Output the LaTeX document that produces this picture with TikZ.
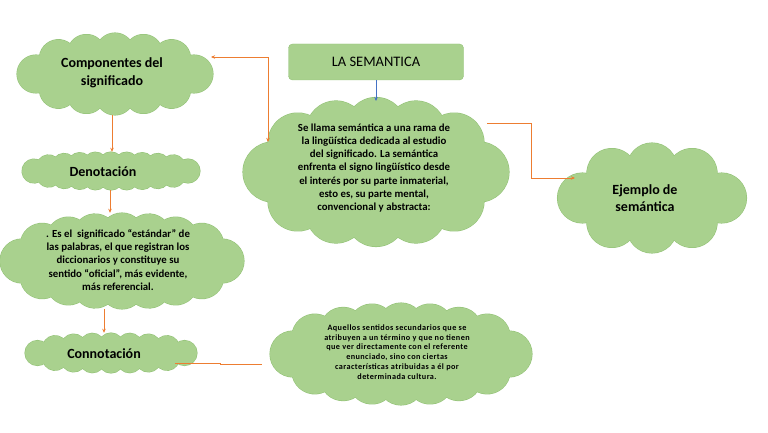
\documentclass[tikz,border=0pt]{standalone}
\usepackage{fontspec}
\setmainfont{Carlito}
\newfontfamily\spacedfont[LetterSpace=5]{Carlito}
\usetikzlibrary{arrows.meta,decorations.markings}
\definecolor{cloudgreen}{HTML}{A9D18E}
\definecolor{cloudedge}{HTML}{93C277}
\definecolor{lineorange}{HTML}{ED7D31}
\definecolor{lineblue}{HTML}{4472C4}
% #1 name, #2 cx, #3 cy, #4 width, #5 height, #6 puff radius
\newcommand\puffcloud[6]{%
  \pgfmathsetmacro\pcax{#4/2-#6}%
  \pgfmathsetmacro\pcay{#5/2-#6}%
  \pgfmathsetmacro\pcper{3.14159*(3*(\pcax+\pcay)-sqrt(3*\pcax+\pcay)*sqrt(\pcax+3*\pcay))}%
  \pgfmathsetmacro\pcn{4*max(2,round(\pcper/(5.4*#6)))}%
  \pgfmathsetmacro\pcstep{1/\pcn}%
  \node[inner sep=0pt, minimum width=#4pt, minimum height=#5pt] (#1) at (#2,#3) {};
  \path[decorate, decoration={markings, mark=between positions 0 and 0.99 step \pcstep with {\draw[cloudedge, line width=1.1pt] (0,0) circle[radius=#6];}}]
    (#2,#3) ellipse[x radius=\pcax, y radius=\pcay];
  \path[decorate, decoration={markings, mark=between positions 0 and 0.99 step \pcstep with {\fill[cloudgreen] (0,0) circle[radius=#6];}}]
    (#2,#3) ellipse[x radius=\pcax, y radius=\pcay];
  \fill[cloudgreen] (#2,#3) ellipse[x radius=\pcax+1, y radius=\pcay+1];
}
\begin{document}
\begin{tikzpicture}[x=1pt,y=-1pt,
  lbl/.style={font=\bfseries\fontsize{14}{17.5}\selectfont, align=center, text=black},
  body/.style={font=\bfseries\fontsize{10.8}{13.1}\selectfont, align=center, text=black},
  conn/.style={draw=lineorange, line width=0.9pt},
  tip/.style={-{Stealth[length=4pt,width=3.5pt]}},
  bothtip/.style={{Stealth[length=4pt,width=3.5pt]}-{Stealth[length=4pt,width=3.5pt]}}
]
\useasboundingbox (0,0) rectangle (768,433);
\fill[white] (0,0) rectangle (768,433);

% clouds
\puffcloud{comp}{115}{74}{196}{82}{19}
\puffcloud{deno}{111}{171}{178}{38}{12}
\puffcloud{esel}{122}{261}{244}{96}{22}
\puffcloud{conno}{111}{353}{172}{40}{12.5}
\puffcloud{aque}{401}{354}{262}{102}{23}
\puffcloud{big}{376}{172}{266}{149}{30}
\puffcloud{ejem}{652}{198}{189}{110}{25}

% title box
\node[draw=cloudedge, fill=cloudgreen, rounded corners=4pt, minimum width=175pt, minimum height=36pt, font=\fontsize{14.5}{16}\selectfont, text=black] (title) at (376,62) {LA SEMANTICA};

% texts
\node[lbl] (tcomp) at (112,73) {Componentes del\\significado};
\node[lbl] (tdeno) at (103,172) {Denotación};
\node[lbl] (tconno) at (104,354) {Connotación};
\node[lbl] (tejem) at (645,198) {Ejemplo de\\semántica};
\node[body] (tbig) at (374,168) {Se llama semántica a una rama de\\la lingüística dedicada al estudio\\del significado. La semántica\\enfrenta el signo lingüístico desde\\el interés por su parte inmaterial,\\esto es, su parte mental,\\convencional y abstracta:};
\node[body] (tesel) at (118,260) {. Es el\ \ significado “estándar” de\\las palabras, el que registran los\\diccionarios y constituye su\\sentido “oficial”, más evidente,\\más referencial.};
\node[font=\spacedfont\bfseries\fontsize{8.2}{9.9}\selectfont, align=center, text=black] (taque) at (397,352) {Aquellos sentidos secundarios que se\\atribuyen a un término y que no tienen\\que ver directamente con el referente\\enunciado, sino con ciertas\\características atribuidas a él por\\determinada cultura.};

% connector coordinates
\coordinate (bigL) at (268,142);
\coordinate (compR) at (211,57);
\coordinate (bigR) at (487,123);
\coordinate (ejemL) at (575,178);
\coordinate (conR) at (175,363);
\coordinate (aqL) at (262,364);

% connectors
\draw[draw=lineblue, line width=0.6pt, tip] (title.south) -- (376,101);
\draw[conn, bothtip] (bigL) -- (268,57) -- (compR);
\draw[conn, tip] (bigR) -- (531,123) -- (531,178) -- (ejemL);
\draw[conn, tip] (comp.south -| 112,0) -- (deno.north -| 112,0);
\draw[conn, tip] (deno.south -| 110,0) -- (esel.north -| 110,0);
\draw[conn, tip] (esel.south -| 104,0) -- (conno.north -| 104,0);
\draw[conn] (conR) -- (220,363) -- (220,364) -- (aqL);
\end{tikzpicture}
\end{document}
